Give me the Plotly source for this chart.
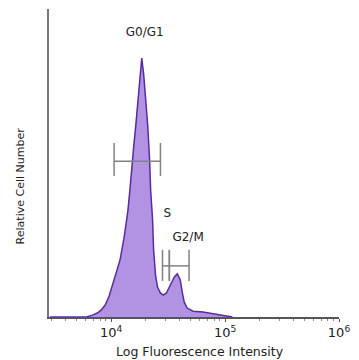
import plotly.graph_objects as go

# Fluorescence intensity (linear units, plotted on log axis) and relative cell counts
intensity = [2900, 6080, 6855, 7570, 8200, 8880, 9610, 10200, 10840, 11280, 11970, 12470,
             12970, 13490, 14060, 14620, 15210, 15840, 16480, 17150, 17860, 18580,
             19330, 20110, 20940, 21780, 22230, 23120, 23600, 24550, 25540, 27100,
             28770, 30550, 33110, 35890, 38110, 40460, 42100, 43780, 46480, 52360,
             63970, 78050, 99080, 116100]
counts = [0, 0, 6, 13, 23, 39, 68, 97, 127, 153, 185, 218,
          256, 299, 347, 412, 494, 558, 623, 705, 786, 841,
          786, 705, 623, 510, 412, 315, 218, 136, 97, 78,
          71, 78, 104, 130, 140, 120, 81, 49, 29, 19,
          16, 10, 3, 0]

# Gate markers (intensity ranges and heights)
g1_gate = [10620, 27100]
g1_gate_y = 506
g1_cap = [458, 565]
s_gate = [28250, 32450]
g2_gate = [32450, 48310]
sg2_gate_y = 166
sg2_cap = [117, 218]

# Phase labels
labels = ["G0/G1", "S", "G2/M"]
label_x = [19720, 31200, 47400]
label_y = [922, 334, 256]

tick_vals = [1e4, 1e5, 1e6]
tick_text = ["10<sup>4</sup>", "10<sup>5</sup>", "10<sup>6</sup>"]

fig = go.Figure()
fig.add_trace(go.Scatter(
    x=intensity, y=counts, mode="lines", fill="tozeroy",
    fillcolor="rgb(178,146,226)", line=dict(color="rgb(88,44,160)", width=1.5),
    hoverinfo="skip", showlegend=False))

gate_color = "rgb(130,130,130)"

def gate(x0, x1, y, cap):
    xs = [x0, x0, None, x0, x1, None, x1, x1]
    ys = [cap[0], cap[1], None, y, y, None, cap[0], cap[1]]
    fig.add_trace(go.Scatter(x=xs, y=ys, mode="lines",
                             line=dict(color=gate_color, width=1.5),
                             hoverinfo="skip", showlegend=False))

gate(g1_gate[0], g1_gate[1], g1_gate_y, g1_cap)
gate(s_gate[0], s_gate[1], sg2_gate_y, sg2_cap)
gate(g2_gate[0], g2_gate[1], sg2_gate_y, sg2_cap)

fig.add_trace(go.Scatter(x=label_x, y=label_y, mode="text", text=labels,
                         textfont=dict(family="DejaVu Sans", size=12, color="#222222"),
                         hoverinfo="skip", showlegend=False))

fig.update_layout(
    width=359, height=360,
    margin=dict(l=49, r=16, t=9, b=43),
    paper_bgcolor="white", plot_bgcolor="white",
    font=dict(family="DejaVu Sans", color="#222222"),
    xaxis=dict(type="log", range=[3.455, 6.0], tickvals=tick_vals, ticktext=tick_text,
               showgrid=False, zeroline=False,
               showline=True, linecolor="#555555", linewidth=1.5,
               ticks="outside", ticklen=3, tickcolor="#555555",
               tickfont=dict(size=13, color="#222222"),
               minor=dict(ticks="outside", ticklen=2, tickcolor="#888888",
                          dtick="D1", showgrid=False)),
    yaxis=dict(range=[0, 1000], showgrid=False, zeroline=False,
               showline=True, linecolor="#777777", linewidth=1.5,
               showticklabels=False, ticks=""),
    annotations=[
        dict(text="Log Fluorescence Intensity", xref="paper", yref="paper",
             x=0.52, y=-0.112, xanchor="center", yanchor="middle", showarrow=False,
             font=dict(size=12.5, color="#222222")),
        dict(text="Relative Cell Number", xref="paper", yref="paper",
             x=-0.099, y=0.425, xanchor="center", yanchor="middle", showarrow=False,
             textangle=-90, font=dict(size=11, color="#222222")),
    ],
)

fig.write_html("out.html", config={"displayModeBar": False},
               post_script="document.body.style.margin='0';document.body.style.padding='0';")
